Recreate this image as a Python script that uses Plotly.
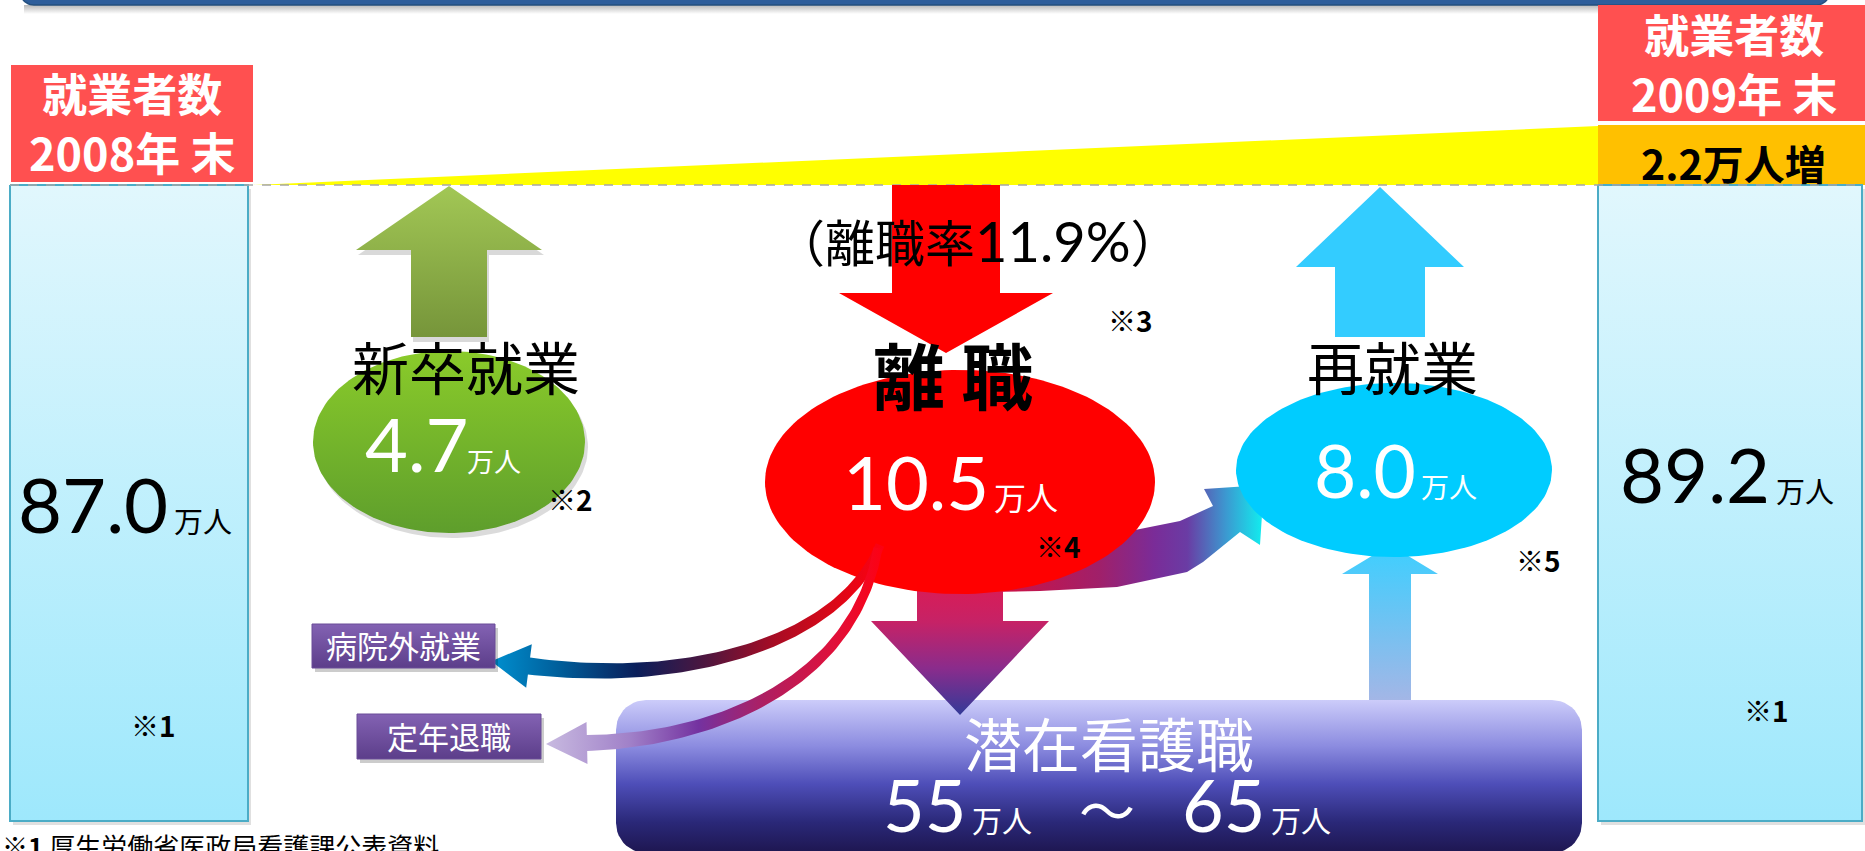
import numpy as np
import plotly.graph_objects as go

# ---------------- data ----------------
header_label = "就業者数"
years = ["2008年 末", "2009年 末"]
employed = [87.0, 89.2]            # 万人
employed_notes = ["※1", "※1"]
increase = 2.2                     # 万人
flow_labels = ["新卒就業", "離職", "再就業"]
flow_values = [4.7, 10.5, 8.0]     # 万人
flow_notes = ["※2", "※4", "※5"]
turnover_rate = 11.9               # %
turnover_note = "※3"
outflow_labels = ["病院外就業", "定年退職"]
latent_label = "潜在看護職"
latent_range = [55, 65]            # 万人
unit = "万人"
source_mark = "※1"
source_text = "厚生労働省医政局看護課公表資料"

# ---------------- helpers ----------------
W, H = 1865, 851
JP = "Noto Sans CJK JP"
NUM = "Lato, Noto Sans CJK JP"
fig = go.Figure()


def poly(xs, ys, fill=None, grad=None, line=None):
    xs = [float(v) for v in xs]
    ys = [float(v) for v in ys]
    tr = dict(x=xs + [xs[0]], y=ys + [ys[0]], mode="lines", fill="toself",
              hoverinfo="skip", showlegend=False,
              line=line or dict(width=0, color="rgba(0,0,0,0)"))
    if grad is not None:
        tr["fillgradient"] = grad
    else:
        tr["fillcolor"] = fill
    fig.add_trace(go.Scatter(**tr))


def vgrad(y0, y1, cs):
    return dict(type="vertical", start=y0, stop=y1, colorscale=cs)


def hgrad(x0, x1, cs):
    return dict(type="horizontal", start=x0, stop=x1, colorscale=cs)


def rect(x0, y0, x1, y1):
    return [x0, x1, x1, x0], [y0, y0, y1, y1]


def rrect(x0, y0, x1, y1, r, n=12):
    xs, ys = [], []
    corners = [(x1 - r, y0 + r, -90, 0), (x1 - r, y1 - r, 0, 90),
               (x0 + r, y1 - r, 90, 180), (x0 + r, y0 + r, 180, 270)]
    for cx, cy, a0, a1 in corners:
        for a in np.linspace(np.radians(a0), np.radians(a1), n):
            xs.append(cx + r * np.cos(a))
            ys.append(cy + r * np.sin(a))
    return xs, ys


def ellipse(cx, cy, rx, ry, n=160):
    t = np.linspace(0, 2 * np.pi, n, endpoint=False)
    return cx + rx * np.cos(t), cy + ry * np.sin(t)


def up_arrow(cx, tip, head_base, hw, sw, bottom):
    xs = [cx, cx + hw, cx + sw, cx + sw, cx - sw, cx - sw, cx - hw]
    ys = [tip, head_base, head_base, bottom, bottom, head_base, head_base]
    return xs, ys


def ribbon(P, w0, w1, hl, hw, n=80):
    P0, P1, P2, P3 = [np.array(p, float) for p in P]
    t = np.linspace(0, 1, n)[:, None]
    B = (1 - t) ** 3 * P0 + 3 * (1 - t) ** 2 * t * P1 + 3 * (1 - t) * t ** 2 * P2 + t ** 3 * P3
    D = 3 * (1 - t) ** 2 * (P1 - P0) + 6 * (1 - t) * t * (P2 - P1) + 3 * t ** 2 * (P3 - P2)
    D = D / np.linalg.norm(D, axis=1)[:, None]
    N = np.stack([-D[:, 1], D[:, 0]], 1)
    w = (w0 + (w1 - w0) * t ** 1.5) / 2
    L = B + N * w
    R = B - N * w
    tip = P3 + D[-1] * hl
    c1 = P3 + N[-1] * hw
    c2 = P3 - N[-1] * hw
    pts = list(L) + [c1, tip, c2] + list(R[::-1])
    return [p[0] for p in pts], [p[1] for p in pts]


def shadow(xs, ys, dx=3, dy=4, a=0.16):
    poly([x + dx for x in xs], [y + dy for y in ys], fill=f"rgba(0,0,0,{a})")


ann = []


def text(x, y, s, size, color="black", family=JP, xanchor="center", yanchor="middle"):
    ann.append(dict(x=x, y=y, text=s, showarrow=False, xref="x", yref="y",
                    xanchor=xanchor, yanchor=yanchor,
                    font=dict(size=size, color=color, family=family)))


def number_with_unit(val, x_split, base, size, usize, color, fmt="{:.1f}", ux=None):
    text(x_split, base - 0.387 * size, fmt.format(val), size, color, NUM, xanchor="right")
    text(x_split + 1 if ux is None else ux, base - 0.436 * usize, unit, usize, color, JP, xanchor="left")


# ---------------- banner ----------------
bx, by = rrect(20, -40, 1830, 5, 14)
poly(*rect(24, 5, 1834, 14), grad=vgrad(5, 14, [[0, "rgba(0,0,0,0.28)"], [1, "rgba(0,0,0,0)"]]))
poly(bx, by, fill="#2E5E9B", line=dict(width=1.5, color="#24507F"))

# ---------------- increase wedge & header boxes ----------------
poly([253, 1598, 1598], [185, 126, 185], fill="#FFFF00")
poly(*rect(1598, 125, 1866, 185), fill="#FFC000")
poly(*rect(11, 65, 253, 182), fill="#FF5050")
poly(*rect(1598, 5, 1866, 121), fill="#FF5050")

# ---------------- employed boxes ----------------
blue_cs = [[0, "#E1F7FD"], [1, "#9EE8FC"]]
for x0, x1 in [(10, 248), (1598, 1862)]:
    xs, ys = rect(x0, 185, x1, 821)
    shadow(xs, ys, 3, 4, 0.12)
    poly(xs, ys, grad=vgrad(185, 821, blue_cs), line=dict(width=2, color="#4BACC6"))

fig.add_trace(go.Scatter(x=[10, 1862], y=[185, 185], mode="lines", hoverinfo="skip",
                         showlegend=False, line=dict(color="#A6A6A6", width=1.5, dash="dash")))

# ---------------- top arrows ----------------
gx, gy = up_arrow(449, 186, 250, 93, 38, 337)
shadow(gx, gy, 2, 5, 0.15)
poly(gx, gy, grad=vgrad(186, 337, [[0, "#A2C755"], [1, "#76953A"]]))
rx_, ry_ = up_arrow(946, 353, 293, 107, 54, 185)
poly(rx_, ry_, fill="#FF0000")
cx_, cy_ = up_arrow(1380, 187, 267, 84, 45, 337)
poly(cx_, cy_, fill="#33CCFF")

# ---------------- latent nurse box ----------------
lx, ly = rrect(616, 700, 1582, 853, 30)
poly(lx, ly, grad=vgrad(700, 853, [[0, "#CCCCFA"], [0.3, "#8C8CE0"], [0.55, "#4E4EB8"],
                                   [0.8, "#2A2878"], [1, "#1E1650"]]))

# small up arrow latent -> re-employment
sx, sy = up_arrow(1390, 545, 574, 48, 21, 700)
poly(sx, sy, grad=vgrad(545, 700, [[0, "#3CCFFF"], [1, "#A3B6E6"]]))

# band 離職 -> 再就業
band_x = [990, 1040, 1100, 1143, 1180, 1213, 1204, 1264, 1260, 1240, 1203, 1187, 1117, 1040, 990]
band_y = [560, 548, 537, 528, 521, 506, 489, 485, 545, 532, 562, 572, 587, 591, 592]
poly(band_x, band_y, grad=hgrad(990, 1264, [[0, "#D41040"], [0.4, "#A0206A"], [0.6, "#7A2C98"],
                                            [0.72, "#6A3CA4"], [0.86, "#3C98D0"], [1, "#10F0F0"]]))

# down arrow 離職 -> 潜在看護職
dx_, dy_ = up_arrow(960, 715, 621, 89, 43, 560)
poly(dx_, dy_, grad=vgrad(560, 715, [[0, "#E8184A"], [0.4, "#C62266"], [0.7, "#8A2C8C"], [1, "#333A98"]]))

# ---------------- ellipses ----------------
ex, ey = ellipse(960, 482, 195, 112)
poly(ex, ey, fill="#FF0000")
ex, ey = ellipse(1394, 470, 158, 87)
poly(ex, ey, fill="#00CCFF")
ex, ey = ellipse(449, 442, 136, 91)
shadow(list(ex), list(ey), 3, 5, 0.14)
poly(ex, ey, grad=vgrad(351, 533, [[0, "#8ACB2A"], [1, "#5E9E2C"]]))

# ---------------- outflow curves ----------------
c1x, c1y = ribbon([(880, 545), (845, 635), (700, 688), (529, 666)], 9, 17, 38, 22)
poly(c1x, c1y, grad=hgrad(491, 885, [[0, "#0090D0"], [0.18, "#005C98"], [0.37, "#0A1E5A"],
                                     [0.55, "#50163E"], [0.72, "#A80C24"], [0.86, "#D80818"],
                                     [1, "#FF0010"]]))
c2x, c2y = ribbon([(878, 548), (855, 680), (720, 740), (587, 743)], 9, 16, 41, 21)
poly(c2x, c2y, grad=hgrad(546, 885, [[0, "#C8BAE0"], [0.25, "#A080C8"], [0.45, "#7432A0"],
                                     [0.65, "#B01E60"], [0.85, "#E0103A"], [1, "#FF0010"]]))

# outflow label boxes
purple_cs = [[0, "#8362B3"], [1, "#5C3E8A"]]
for (x0, y0, x1, y1) in [(312, 624, 495, 668), (357, 714, 541, 759)]:
    xs, ys = rect(x0, y0, x1, y1)
    shadow(xs, ys, 3, 4, 0.2)
    poly(xs, ys, grad=vgrad(y0, y1, purple_cs), line=dict(width=1, color="#6A4C98"))

# ---------------- texts ----------------
# header labels
text(132, 122, f"<b>{header_label}<br>{years[0]}</b>", 45, "white")
text(1734, 63, f"<b>{header_label}<br>{years[1]}</b>", 45, "white")
text(1733, 162, f"<b>{increase:.1f}{unit}増</b>", 41, "black")

# employed totals
number_with_unit(employed[0], 170, 533, 76, 29, "black", ux=172)
number_with_unit(employed[1], 1772, 503, 76, 29, "black", ux=1774)
text(153, 725, f"<b>{employed_notes[0]}</b>", 28)
text(1766, 710, f"<b>{employed_notes[1]}</b>", 28)

# flows
text(466, 365, flow_labels[0], 57)
number_with_unit(flow_values[0], 470, 472, 74, 27, "white", ux=465)
text(570, 499, f"<b>{flow_notes[0]}</b>", 28)

text(978, 240, f"（離職率<span style='font-family:Lato;font-size:56px'>{turnover_rate:.1f}%</span>）", 50)
text(953, 372, f"<b>{flow_labels[1][0]} {flow_labels[1][1:]}</b>", 72)
text(1130, 320, f"<b>{turnover_note}</b>", 28)
number_with_unit(flow_values[1], 991, 510, 74, 32, "white")
text(1058, 546, f"<b>{flow_notes[1]}</b>", 28)

text(1392, 365, flow_labels[2], 57)
number_with_unit(flow_values[2], 1418, 498, 73, 28, "white")
text(1538, 560, f"<b>{flow_notes[2]}</b>", 28)

# outflows
text(403, 644, outflow_labels[0], 31, "white")
text(449, 735, outflow_labels[1], 31, "white")

# latent
text(1109, 742, latent_label, 58, "white")
number_with_unit(latent_range[0], 969, 832, 72, 30, "white", fmt="{:d}")
text(1107, 807, "～", 56, "white")
number_with_unit(latent_range[1], 1268, 832, 72, 30, "white", fmt="{:d}")

# footnote
text(0, 845, f"<b>{source_mark}</b> {source_text}", 26, xanchor="left")

fig.update_layout(
    width=W, height=H, margin=dict(l=0, r=0, t=0, b=0),
    paper_bgcolor="white", plot_bgcolor="white", showlegend=False,
    xaxis=dict(range=[0, W], visible=False, fixedrange=True),
    yaxis=dict(range=[H, 0], visible=False, fixedrange=True),
    annotations=ann,
)

fig.write_html("out.html", include_plotlyjs=True,
               config={"displayModeBar": False, "responsive": False},
               post_script="document.body.style.margin='0';document.body.style.overflow='hidden';")
